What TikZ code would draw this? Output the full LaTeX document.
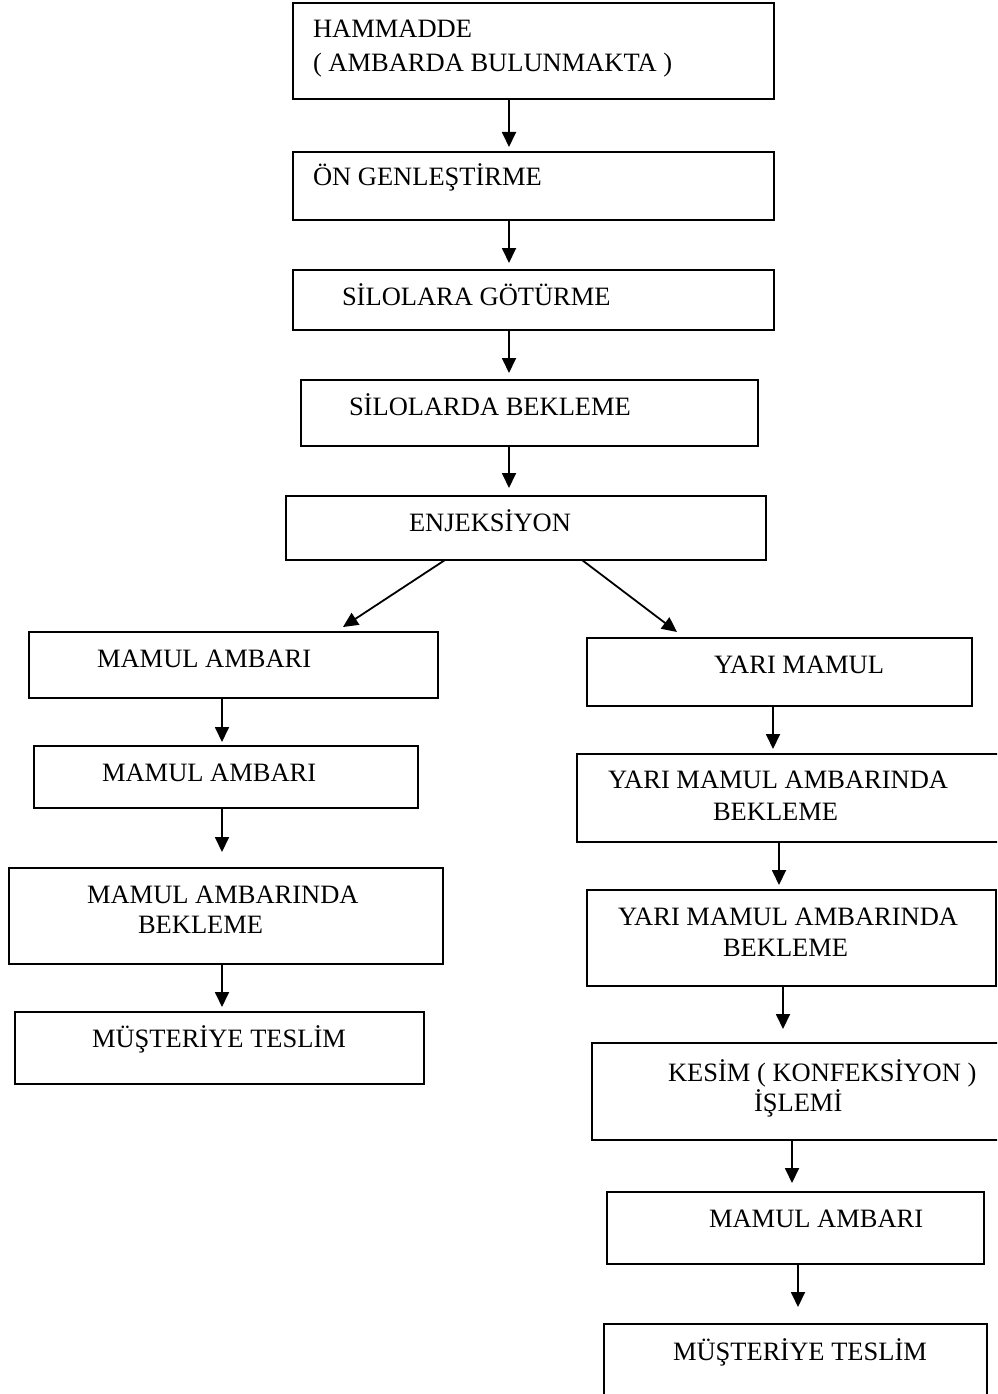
\documentclass[tikz,border=0pt]{standalone}
\usepackage{fontspec}
\setmainfont{Liberation Serif}
\usetikzlibrary{arrows.meta}
\begin{document}
\begin{tikzpicture}[x=1pt,y=-1pt,
  box/.style={draw, line width=1.8pt, rectangle, inner sep=0pt, outer sep=0pt},
  txt/.style={anchor=base west, inner sep=0pt, outer sep=0pt, font=\fontsize{26.5}{30.5}\selectfont},
  arr/.style={line width=1.8pt, -{Triangle[length=15pt,width=14pt]}}]
\clip (0,0) rectangle (997,1394);
\fill[white] (0,0) rectangle (997,1394);
% boxes
\node[box, minimum width=481pt, minimum height=96pt] (b1) at (533.5,51) {};
\node[box, minimum width=481pt, minimum height=68pt] (b2) at (533.5,186) {};
\node[box, minimum width=481pt, minimum height=60pt] (b3) at (533.5,300) {};
\node[box, minimum width=457pt, minimum height=66pt] (b4) at (529.5,413) {};
\node[box, minimum width=480pt, minimum height=64pt] (b5) at (526,528) {};
\node[box, minimum width=409pt, minimum height=66pt] (b6) at (233.5,665) {};
\node[box, minimum width=384pt, minimum height=62pt] (b7) at (226,777) {};
\node[box, minimum width=434pt, minimum height=96pt] (b8) at (226,916) {};
\node[box, minimum width=409pt, minimum height=72pt] (b9) at (219.5,1048) {};
\node[box, minimum width=385pt, minimum height=68pt] (b10) at (779.5,672) {};
\node[box, minimum width=428pt, minimum height=88pt] (b11) at (791,798) {};
\node[box, minimum width=409pt, minimum height=96pt] (b12) at (791.5,938) {};
\node[box, minimum width=413pt, minimum height=97pt] (b13) at (798.5,1091.5) {};
\node[box, minimum width=377pt, minimum height=72pt] (b14) at (795.5,1228) {};
\node[box, minimum width=383pt, minimum height=76pt] (b15) at (795.5,1362) {};
% texts
\node[txt] (t1a) at (313,38) {HAMMADDE};
\node[txt] (t1b) at (313,72) {( AMBARDA BULUNMAKTA )};
\node[txt] (t2) at (313,185) {ÖN GENLEŞTİRME};
\node[txt] (t3) at (342,305) {SİLOLARA GÖTÜRME};
\node[txt] (t4) at (349,415) {SİLOLARDA BEKLEME};
\node[txt] (t5) at (409,531) {ENJEKSİYON};
\node[txt] (t6) at (97,667) {MAMUL AMBARI};
\node[txt] (t7) at (102,781) {MAMUL AMBARI};
\node[txt] (t8a) at (87,903) {MAMUL AMBARINDA};
\node[txt] (t8b) at (138,933) {BEKLEME};
\node[txt] (t9) at (92,1047) {MÜŞTERİYE TESLİM};
\node[txt] (t10) at (714,673) {YARI MAMUL};
\node[txt] (t11a) at (608,788) {YARI MAMUL AMBARINDA};
\node[txt] (t11b) at (713,820) {BEKLEME};
\node[txt] (t12a) at (618,925) {YARI MAMUL AMBARINDA};
\node[txt] (t12b) at (723,956) {BEKLEME};
\node[txt] (t13a) at (668,1081) {KESİM ( KONFEKSİYON )};
\node[txt] (t13b) at (754,1111) {İŞLEMİ};
\node[txt] (t14) at (709,1227) {MAMUL AMBARI};
\node[txt] (t15) at (673,1360) {MÜŞTERİYE TESLİM};
% connectors
\draw[arr, shorten >=5pt] (b1.south -| 509,0) -- (b2.north -| 509,0);
\draw[arr, shorten >=7pt] (b2.south -| 509,0) -- (b3.north -| 509,0);
\draw[arr, shorten >=7pt] (b3.south -| 509,0) -- (b4.north -| 509,0);
\draw[arr, shorten >=8pt] (b4.south -| 509,0) -- (b5.north -| 509,0);
\draw[arr] (b5.south -| 445,0) -- ([yshift=5pt]b6.north -| 343,0);
\draw[arr] (b5.south -| 582,0) -- ([yshift=6pt]b10.north -| 677,0);
\draw[arr, shorten >=4pt] (b6.south -| 222,0) -- (b7.north -| 222,0);
\draw[arr, shorten >=16pt] (b7.south -| 222,0) -- (b8.north -| 222,0);
\draw[arr, shorten >=5pt] (b8.south -| 222,0) -- (b9.north -| 222,0);
\draw[arr, shorten >=5pt] (b10.south -| 773,0) -- (b11.north -| 773,0);
\draw[arr, shorten >=5pt] (b11.south -| 779,0) -- (b12.north -| 779,0);
\draw[arr, shorten >=14pt] (b12.south -| 783,0) -- (b13.north -| 783,0);
\draw[arr, shorten >=9pt] (b13.south -| 792,0) -- (b14.north -| 792,0);
\draw[arr, shorten >=17pt] (b14.south -| 798,0) -- (b15.north -| 798,0);
\end{tikzpicture}
\end{document}
